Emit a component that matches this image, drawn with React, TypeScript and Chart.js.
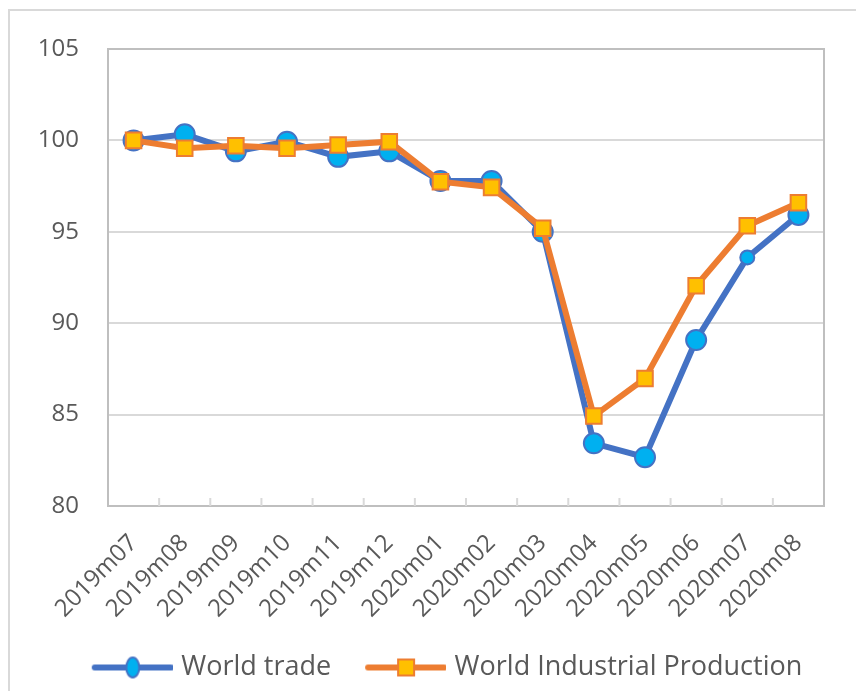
import React, { useEffect, useRef } from "react";
import { Chart, registerables } from "chart.js";

Chart.register(...registerables);

const categories = [
  "2019m07", "2019m08", "2019m09", "2019m10", "2019m11", "2019m12",
  "2020m01", "2020m02", "2020m03", "2020m04", "2020m05", "2020m06",
  "2020m07", "2020m08",
];
const worldTrade = [100.0, 100.33, 99.4, 99.93, 99.1, 99.4, 97.78, 97.78, 95.0, 83.43, 82.67, 89.08, 93.6, 95.92];
const worldIP = [100.0, 99.57, 99.71, 99.57, 99.75, 99.93, 97.74, 97.43, 95.19, 84.92, 86.98, 92.05, 95.33, 96.59];
const yTicks = [80, 85, 90, 95, 100, 105];

const FONT = "'Open Sans', sans-serif";
const TEXT = "#595959";
const BLUE = "#4472c4";
const CYAN = "#00b0f0";
const ORANGE = "#ed7d31";
const GOLD = "#ffc000";

function legendIcon(kind: "circle" | "square"): HTMLCanvasElement {
  const c = document.createElement("canvas");
  c.width = 110;
  c.height = 24;
  const ctx = c.getContext("2d")!;
  ctx.lineCap = "round";
  ctx.strokeStyle = kind === "circle" ? BLUE : ORANGE;
  ctx.lineWidth = 6;
  ctx.beginPath();
  ctx.moveTo(32, 12);
  ctx.lineTo(108, 12);
  ctx.stroke();
  ctx.lineWidth = 2;
  if (kind === "circle") {
    ctx.fillStyle = CYAN;
    ctx.strokeStyle = BLUE;
    ctx.beginPath();
    ctx.ellipse(70, 12, 6.5, 10, 0, 0, Math.PI * 2);
    ctx.fill();
    ctx.stroke();
  } else {
    ctx.fillStyle = GOLD;
    ctx.strokeStyle = ORANGE;
    ctx.fillRect(62, 4, 16, 16);
    ctx.strokeRect(62, 4, 16, 16);
  }
  return c;
}

const framePlugin = {
  id: "frame",
  afterLayout(chart: any) {
    const lg = chart.legend;
    if (lg) {
      lg.left += 23;
      lg.right += 23;
    }
  },
  beforeDraw(chart: any) {
    const ctx = chart.ctx;
    ctx.save();
    ctx.fillStyle = "#ffffff";
    ctx.fillRect(0, 0, chart.width, chart.height);
    ctx.strokeStyle = "#d9d9d9";
    ctx.lineWidth = 2;
    ctx.beginPath();
    ctx.moveTo(9, chart.height + 5);
    ctx.lineTo(9, 10);
    ctx.lineTo(chart.width + 5, 10);
    ctx.stroke();
    ctx.restore();
  },
  beforeDatasetsDraw(chart: any) {
    const { ctx, chartArea: a, scales } = chart;
    ctx.save();
    ctx.strokeStyle = "#bfbfbf";
    ctx.lineWidth = 2;
    ctx.strokeRect(a.left, a.top, a.right - a.left, a.bottom - a.top);
    const x = scales.x;
    const n = categories.length;
    const step = (a.right - a.left) / n;
    ctx.strokeStyle = "#d9d9d9";
    ctx.beginPath();
    for (let i = 1; i < n; i++) {
      const px = x.getPixelForValue(i) - step / 2;
      ctx.moveTo(px, a.bottom);
      ctx.lineTo(px, a.bottom - 8);
    }
    ctx.stroke();
    ctx.restore();
  },
};

export default function App() {
  const ref = useRef<HTMLCanvasElement>(null);
  useEffect(() => {
    const circleIcon = legendIcon("circle");
    const squareIcon = legendIcon("square");
    const chart = new Chart(ref.current!, {
      type: "line",
      data: {
        labels: categories,
        datasets: [
          {
            label: "World trade",
            data: worldTrade,
            borderColor: BLUE,
            borderWidth: 6,
            backgroundColor: CYAN,
            pointBackgroundColor: CYAN,
            pointBorderColor: BLUE,
            pointBorderWidth: 2,
            pointRadius: [10, 10, 10, 10, 10, 10, 10, 10, 10, 10, 10, 10, 7, 10],
            pointStyle: "circle",
            tension: 0,
            order: 1,
          },
          {
            label: "World Industrial Production",
            data: worldIP,
            borderColor: ORANGE,
            borderWidth: 6,
            backgroundColor: GOLD,
            pointBackgroundColor: GOLD,
            pointBorderColor: ORANGE,
            pointBorderWidth: 2,
            pointRadius: 11,
            pointStyle: "rect",
            tension: 0,
            order: 0,
          },
        ],
      },
      options: {
        animation: false,
        responsive: false,
        layout: { padding: { left: 0, top: 49, right: 32, bottom: 0 } },
        scales: {
          x: {
            type: "category",
            offset: true,
            grid: { display: false, drawTicks: false },
            border: { display: false },
            ticks: {
              color: TEXT,
              font: { family: FONT, size: 24 },
              minRotation: 45,
              maxRotation: 45,
              padding: 23,
              autoSkip: false,
            },
            afterFit: (s: any) => {
              s.height = 138;
            },
          },
          y: {
            min: 80,
            max: 105,
            afterBuildTicks: (s: any) => {
              s.ticks = yTicks.map((v) => ({ value: v }));
            },
            grid: { color: "#d9d9d9", lineWidth: 2, drawTicks: false },
            border: { display: false },
            ticks: {
              color: TEXT,
              font: { family: FONT, size: 24 },
              padding: 29,
            },
            afterFit: (s: any) => {
              s.width = 108;
            },
          },
        },
        plugins: {
          tooltip: { enabled: false },
          legend: {
            position: "bottom",
            labels: {
              usePointStyle: true,
              pointStyleWidth: 100,
              padding: 10,
              color: TEXT,
              font: { family: FONT, size: 27 },
              sort: (a: any, b: any) => a.datasetIndex - b.datasetIndex,
              generateLabels: (ch: any) =>
                ch.data.datasets.map((d: any, i: number) => ({
                  text: d.label,
                  datasetIndex: i,
                  pointStyle: i === 0 ? circleIcon : squareIcon,
                  fillStyle: "transparent",
                  strokeStyle: "transparent",
                  lineWidth: 0,
                  fontColor: TEXT,
                  hidden: false,
                })),
            },
          },
        },
      },
      plugins: [framePlugin],
    });
    return () => chart.destroy();
  }, []);
  return (
    <div style={{ position: "fixed", left: 0, top: 0, width: 856, height: 691, background: "#fff" }}>
      <canvas ref={ref} width={856} height={691} style={{ width: 856, height: 691, display: "block" }} />
    </div>
  );
}
